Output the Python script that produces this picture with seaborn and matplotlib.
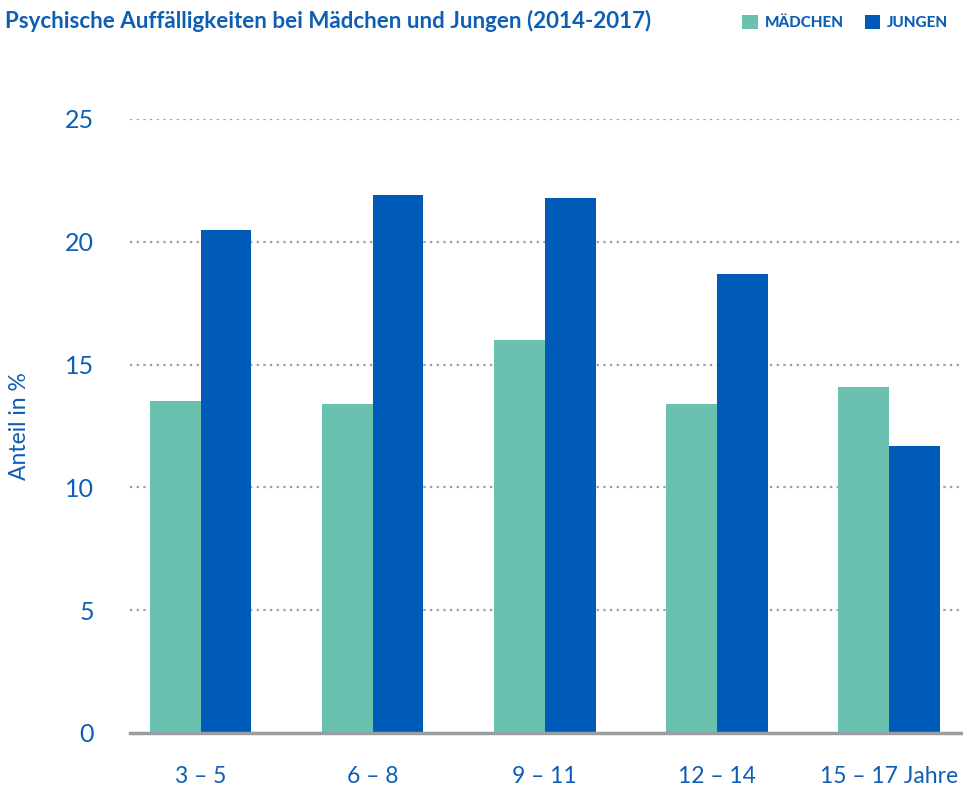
import matplotlib
matplotlib.use("Agg")
import matplotlib.pyplot as plt
import pandas as pd
import seaborn as sns

# Data
altersgruppen = ["3 – 5", "6 – 8", "9 – 11", "12 – 14", "15 – 17 Jahre"]
maedchen = [13.5, 13.4, 16.0, 13.4, 14.1]
jungen = [20.5, 21.9, 21.8, 18.7, 11.7]
gruppen = ["MÄDCHEN", "JUNGEN"]
farben = ["#6bc1b0", "#005bb8"]
yticks = [0, 5, 10, 15, 20, 25]

df = pd.DataFrame({
    "alter": altersgruppen * 2,
    "anteil": maedchen + jungen,
    "gruppe": [gruppen[0]] * len(maedchen) + [gruppen[1]] * len(jungen),
})

blau = "#0d5eb5"

sns.set_style("white")
plt.rcParams["font.family"] = ["Lato", "DejaVu Sans"]

fig = plt.figure(figsize=(9.63, 7.91), dpi=100)
ax = fig.add_axes([130 / 963, 1 - 733 / 791, 833 / 963, 614 / 791])

sns.barplot(data=df, x="alter", y="anteil", hue="gruppe", order=altersgruppen,
            hue_order=gruppen, palette=farben, width=0.59, saturation=1,
            linewidth=0, ax=ax, zorder=3)

ax.set_xlim(-0.41, 4.43)
ax.set_ylim(0, 25)
ax.set_yticks(yticks)
ax.grid(axis="y", linestyle=(0, (1, 2.0)), linewidth=1.6, color="#9a9ea3", zorder=0)
ax.set_axisbelow(True)

for s in ["top", "right", "left"]:
    ax.spines[s].set_visible(False)
ax.spines["bottom"].set_color("#9a9ea3")
ax.spines["bottom"].set_linewidth(2.5)
ax.spines["bottom"].set_zorder(4)

ax.tick_params(axis="y", length=0, pad=26, labelsize=18, labelcolor=blau)
ax.tick_params(axis="x", length=0, pad=24, labelsize=16.5, labelcolor=blau)
ax.set_xlabel("")
ax.set_ylabel("Anteil in %", fontsize=16.5, color=blau)
ax.yaxis.set_label_coords(-0.12, 0.5)

titel = fig.text(0.005, 1 - 28 / 791,
                 "Psychische Auffälligkeiten bei Mädchen und Jungen (2014-2017)",
                 fontsize=17, fontweight="bold", color=blau, va="baseline", ha="left")

# fit the title to the width it has in the reference
fig.canvas.draw()
w = titel.get_window_extent().width
titel.set_fontsize(17 * 647 / w)

handles, labels = ax.get_legend_handles_labels()
leg = ax.legend(handles, labels, loc="upper right", bbox_to_anchor=(0.999, 0.998),
                bbox_transform=fig.transFigure, ncol=2, frameon=False,
                handlelength=1.0, handleheight=1.0, handletextpad=0.45,
                columnspacing=1.4, prop={"size": 11, "weight": "black"})
for t in leg.get_texts():
    t.set_color(blau)

fig.savefig("out.png", dpi=100)
